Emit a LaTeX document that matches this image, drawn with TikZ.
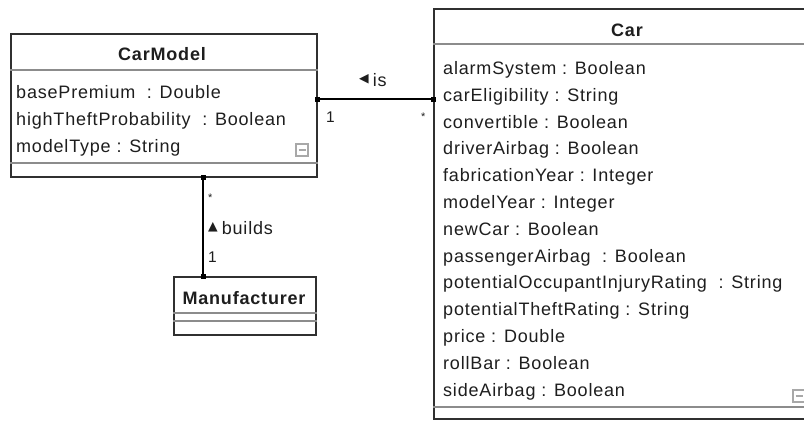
\documentclass[tikz,border=0pt]{standalone}
\usepackage{fontspec}
\setmainfont{Liberation Sans}[LetterSpace=4.5]
\newfontfamily\symfont{DejaVu Sans}
\definecolor{boxline}{HTML}{303030}
\definecolor{sepline}{HTML}{8C8C8C}
\definecolor{txt}{HTML}{1E1E1E}
\definecolor{icon}{HTML}{A8A8A8}
\tikzset{
  classbox/.style={draw=boxline, line width=1.8pt, fill=white, inner sep=0pt, anchor=north west},
  sepl/.style={draw=sepline, line width=1.2pt},
  attr/.style={anchor=base west, inner sep=0pt, text=txt, font=\fontsize{18}{20}\selectfont},
  ctitle/.style={anchor=base, inner sep=0pt, text=txt, font=\fontsize{18}{20}\selectfont\bfseries},
  mult/.style={anchor=base west, inner sep=0pt, text=txt, font=\fontsize{15.5}{17}\selectfont},
  star/.style={anchor=base west, inner sep=0pt, text=txt, font=\fontsize{11}{12}\selectfont},
  assoc/.style={draw=black, line width=1.3pt},
  endsq/.style={rectangle, fill=black, draw=none, minimum size=5pt, inner sep=0pt},
  iconbox/.style={draw=icon, line width=1.1pt, fill=white},
}
\begin{document}
\begin{tikzpicture}[x=1pt,y=-1pt]
\useasboundingbox (0,0) rectangle (804,424);
\clip (0,0) rectangle (804,424);
\fill[white] (0,0) rectangle (804,424);

% ---- CarModel ----
\node[classbox, minimum width=306pt, minimum height=143pt] (carmodel) at (10,33) {};
\draw[sepl] (carmodel.west |- 0,70) -- (carmodel.east |- 0,70);
\draw[sepl] (carmodel.west |- 0,163) -- (carmodel.east |- 0,163);
\node[ctitle] (cmtitle) at (162,60) {CarModel};
\node[attr] (cm1) at (16,98) {basePremium \ : Double};
\node[attr] (cm2) at (16,125) {highTheftProbability \ : Boolean};
\node[attr] (cm3) at (16,152) {modelType : String};
\draw[iconbox] (296,144) rectangle (308,156);
\draw[icon, line width=1.1pt] (298.5,150) -- (305.5,150);

% ---- Car ----
\node[classbox, minimum width=382pt, minimum height=410pt] (car) at (433,8) {};
\draw[sepl] (car.west |- 0,44) -- (car.east |- 0,44);
\draw[sepl] (car.west |- 0,407) -- (car.east |- 0,407);
\node[ctitle] (cartitle) at (627,36) {Car};
\node[attr] (c1)  at (443,74.5) {alarmSystem : Boolean};
\node[attr] (c2)  at (443,101.3) {carEligibility : String};
\node[attr] (c3)  at (443,128.1) {convertible : Boolean};
\node[attr] (c4)  at (443,154.9) {driverAirbag : Boolean};
\node[attr] (c5)  at (443,181.7) {fabricationYear : Integer};
\node[attr] (c6)  at (443,208.5) {modelYear : Integer};
\node[attr] (c7)  at (443,235.3) {newCar : Boolean};
\node[attr] (c8)  at (443,262.1) {passengerAirbag \ : Boolean};
\node[attr] (c9)  at (443,288.9) {potentialOccupantInjuryRating \ : String};
\node[attr] (c10) at (443,315.7) {potentialTheftRating : String};
\node[attr] (c11) at (443,342.5) {price : Double};
\node[attr] (c12) at (443,369.3) {rollBar : Boolean};
\node[attr] (c13) at (443,396.1) {sideAirbag : Boolean};
\draw[iconbox] (793,390) rectangle (805,402);
\draw[icon, line width=1.1pt] (795.5,396) -- (802.5,396);

% ---- Manufacturer ----
\node[classbox, minimum width=142pt, minimum height=58pt] (manu) at (173,276) {};
\draw[sepl] (manu.west |- 0,313) -- (manu.east |- 0,313);
\draw[sepl] (manu.west |- 0,321) -- (manu.east |- 0,321);
\node[ctitle] (mtitle) at (244,304) {Manufacturer};

% ---- association "is" ----
\coordinate (isrow) at (0,99);
\draw[assoc] (carmodel.east |- isrow) -- (car.west |- isrow);
\node[endsq] (isa) at (carmodel.east |- isrow) {};
\node[endsq] (isb) at (car.west |- isrow) {};
\node[attr] (islabel) at (359,86) {\raisebox{4pt}{\symfont\fontsize{12.5}{12}\selectfont ◀}\hspace{4pt}is};
\node[mult] (is1) at (326,122) {1};
\node[star] (isstar) at (421,120) {*};

% ---- association "builds" ----
\coordinate (bcol) at (203,0);
\draw[assoc] (carmodel.south -| bcol) -- (manu.north -| bcol);
\node[endsq] (ba) at (carmodel.south -| bcol) {};
\node[endsq] (bb) at (manu.north -| bcol) {};
\node[star] (bstar) at (208,201) {*};
\node[attr] (blabel) at (208,234) {\raisebox{4pt}{\symfont\fontsize{12.5}{12}\selectfont ▲}\hspace{4pt}builds};
\node[mult] (b1) at (208,262) {1};
\end{tikzpicture}
\end{document}
